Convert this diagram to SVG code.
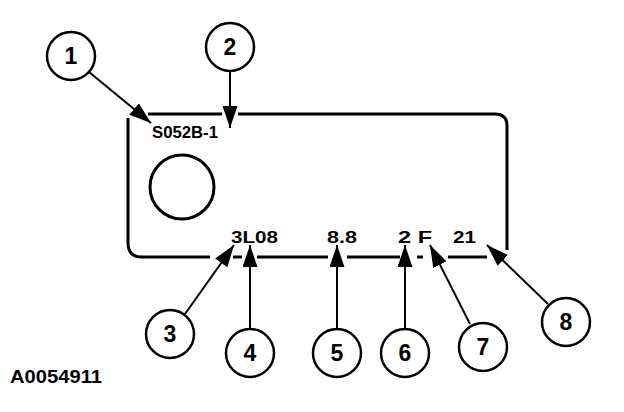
<svg xmlns="http://www.w3.org/2000/svg" width="624" height="412" viewBox="0 0 624 412">
<style>
.ln{fill:none;stroke:#000;stroke-width:3;stroke-linecap:butt}
.ld{fill:none;stroke:#000;stroke-width:2}
.cc{fill:#fff;stroke:#000;stroke-width:2.5}
.num{font-family:"Liberation Sans",Arial,sans-serif;font-weight:bold;font-size:23px;text-anchor:middle;fill:#000}
.lbl{font-family:"Liberation Sans",Arial,sans-serif;font-weight:bold;font-size:17px;fill:#000}
</style>
<defs>
<marker id="ah" viewBox="0 0 22 15" refX="22" refY="7.5" markerWidth="22" markerHeight="15" markerUnits="userSpaceOnUse" orient="auto">
<path d="M0,0 L22,7.5 L0,15 z" fill="#000"/>
</marker>
</defs>
<rect width="624" height="412" fill="#fff"/>
<g id="plate">
<path class="ln" d="M128,118 V243 Q128,257 142,257 H210"/>
<path class="ln" d="M233,257 H242 M257,257 H328 M347,257 H400 M417,257 H423 M448,257 H487"/>
<path class="ln" d="M148,114 H222 M238,114 H495 Q507,114 507,126 V250"/>
<circle cx="182" cy="187" r="32" fill="none" stroke="#000" stroke-width="3"/>
<text class="lbl" x="152" y="138" textLength="66" lengthAdjust="spacingAndGlyphs">S052B-1</text>
<text class="lbl" x="231" y="243" textLength="47" lengthAdjust="spacingAndGlyphs">3L08</text>
<text class="lbl" x="327" y="243" textLength="30" lengthAdjust="spacingAndGlyphs">8.8</text>
<text class="lbl" x="398" y="243" textLength="34" lengthAdjust="spacingAndGlyphs">2 F</text>
<text class="lbl" x="453" y="243" textLength="23" lengthAdjust="spacingAndGlyphs">21</text>
</g>
<g id="connectors">
<line class="ld" x1="89" y1="72" x2="151" y2="123" marker-end="url(#ah)"/>
<line class="ld" x1="230" y1="71" x2="230" y2="128" marker-end="url(#ah)"/>
<line class="ld" x1="185" y1="314" x2="234" y2="245" marker-end="url(#ah)"/>
<line class="ld" x1="250" y1="329" x2="250" y2="245" marker-end="url(#ah)"/>
<line class="ld" x1="337" y1="329" x2="337" y2="245" marker-end="url(#ah)"/>
<line class="ld" x1="405" y1="329" x2="405" y2="245" marker-end="url(#ah)"/>
<line class="ld" x1="470" y1="324" x2="430" y2="245" marker-end="url(#ah)"/>
<line class="ld" x1="548" y1="304" x2="487" y2="245" marker-end="url(#ah)"/>
</g>
<g id="c1"><circle class="cc" cx="71" cy="56" r="24"/><text class="num" x="71" y="64">1</text></g>
<g id="c2"><circle class="cc" cx="230" cy="47" r="24"/><text class="num" x="230" y="55">2</text></g>
<g id="c3"><circle class="cc" cx="170" cy="334" r="24"/><text class="num" x="170" y="342">3</text></g>
<g id="c4"><circle class="cc" cx="250" cy="353" r="24"/><text class="num" x="250" y="361">4</text></g>
<g id="c5"><circle class="cc" cx="337" cy="353" r="24"/><text class="num" x="337" y="361">5</text></g>
<g id="c6"><circle class="cc" cx="405" cy="353" r="24"/><text class="num" x="405" y="361">6</text></g>
<g id="c7"><circle class="cc" cx="483" cy="347" r="24"/><text class="num" x="483" y="355">7</text></g>
<g id="c8"><circle class="cc" cx="566" cy="322" r="24"/><text class="num" x="566" y="330">8</text></g>
<text class="lbl" x="10" y="383" style="font-size:18px" textLength="92" lengthAdjust="spacingAndGlyphs">A0054911</text>
</svg>
